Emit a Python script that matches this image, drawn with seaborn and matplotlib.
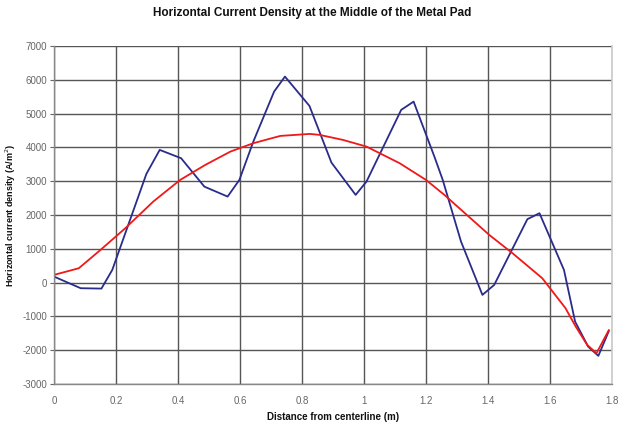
import numpy as np
import pandas as pd
import matplotlib
matplotlib.use("Agg")
import matplotlib.pyplot as plt
import seaborn as sns

# Data
blue_x = [0.0, 0.086, 0.153, 0.188, 0.298, 0.341, 0.41, 0.485, 0.56, 0.598,
          0.643, 0.71, 0.745, 0.824, 0.895, 0.973, 1.008, 1.12, 1.16, 1.227,
          1.254, 1.313, 1.382, 1.42, 1.527, 1.566, 1.645, 1.681, 1.723, 1.756,
          1.79]
blue_y = [178, -166, -177, 376, 3216, 3926, 3680, 2840, 2545, 3038,
          4172, 5651, 6095, 5228, 3550, 2595, 2988, 5110, 5355, 3728,
          3038, 1213, -364, -68, 1876, 2053, 376, -1154, -1893, -2168,
          -1429]

red_x = [0.0, 0.08, 0.15, 0.23, 0.32, 0.407, 0.488, 0.569, 0.643, 0.73,
         0.825, 0.857, 0.932, 1.008, 1.115, 1.2, 1.26, 1.404, 1.479, 1.575,
         1.65, 1.683, 1.72, 1.75, 1.79]
red_y = [228, 425, 967, 1609, 2396, 3038, 3482, 3876, 4124, 4340,
         4399, 4370, 4222, 4024, 3532, 3038, 2589, 1411, 870, 130,
         -757, -1302, -1843, -2089, -1400]

x_ticks = [0, 0.2, 0.4, 0.6, 0.8, 1, 1.2, 1.4, 1.6, 1.8]
x_tick_labels = ["0", "0.2", "0.4", "0.6", "0.8", "1", "1.2", "1.4", "1.6", "1.8"]
y_ticks = list(range(-3000, 7001, 1000))

sns.set_theme(style="white")
plt.rcParams['font.family'] = ['Liberation Sans', 'DejaVu Sans']
plt.rcParams['axes.unicode_minus'] = False

df_blue = pd.DataFrame({'x': blue_x, 'y': blue_y})
df_red = pd.DataFrame({'x': red_x, 'y': red_y})

fig = plt.figure(figsize=(6.19, 4.22), dpi=100)
ax = fig.add_axes([54 / 619, 1 - 384 / 422, 558 / 619, 338 / 422])

sns.lineplot(data=df_blue, x='x', y='y', color='#2b2b8c', linewidth=1.3,
             sort=False, estimator=None, ax=ax)
sns.lineplot(data=df_red, x='x', y='y', color='#f01818', linewidth=1.3,
             sort=False, estimator=None, ax=ax)

ax.set_xlim(0, 1.8)
ax.set_ylim(-3000, 7000)
ax.set_xticks(x_ticks)
ax.set_xticklabels(x_tick_labels)
ax.set_yticks(y_ticks)
ax.grid(True, color='#555555', linewidth=1.0)
ax.set_axisbelow(True)

for side in ['left', 'bottom']:
    ax.spines[side].set_color('#888888')
    ax.spines[side].set_linewidth(1.0)
ax.spines['top'].set_visible(False)
ax.spines['right'].set_color('#cccccc')

ax.tick_params(axis='both', labelsize=7, colors='#666666', length=3,
               direction='out', width=0.8)
ax.tick_params(axis='y', left=True, pad=2)
ax.tick_params(axis='x', bottom=False, pad=6)

ax.set_xlabel('Distance from centerline (m)', fontsize=7, fontweight='bold',
              color='#111111', labelpad=4)
ax.set_ylabel('Horizontal current density (A/m$^2$)', fontsize=6.5,
              fontweight='bold', color='#111111', labelpad=3)

fig.text(312 / 619, 1 - 13 / 422,
         'Horizontal Current Density at the Middle of the Metal Pad',
         ha='center', va='center', fontsize=8.5, fontweight='bold',
         color='#111111')

fig.savefig('out.png', dpi=100)
